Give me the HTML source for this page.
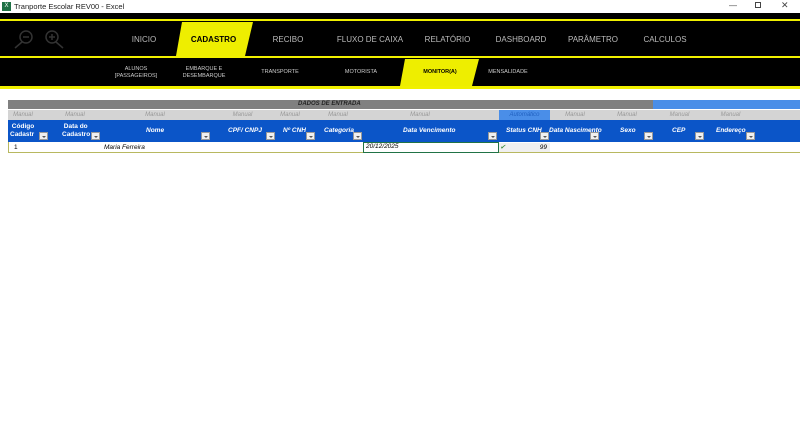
<!DOCTYPE html>
<html><head><meta charset="utf-8"><style>
*{margin:0;padding:0;box-sizing:border-box}
body{width:800px;height:421px;background:#fff;position:relative;overflow:hidden;font-family:"Liberation Sans",sans-serif}
.a{position:absolute}
.nav{color:#bbb;font-size:8px;text-align:center}
.sub{color:#ccc;font-size:5.5px;text-align:center;line-height:7px}
.m{position:absolute;top:110px;height:10px;font-size:6px;font-style:italic;color:#999;text-align:center;line-height:10px}
.h{position:absolute;top:120px;height:22px;color:#fff;font-size:6.5px;font-weight:bold;font-style:italic;line-height:8px}
.dd{position:absolute;width:9px;height:8px;background:#f0f0f0;border:1px solid #999;top:132px}
.dd:after{content:"";position:absolute;left:2px;top:2.5px;border-left:2px solid transparent;border-right:2px solid transparent;border-top:2.5px solid #555}
</style></head><body>
<div class="a" style="left:2px;top:2px;width:9px;height:9px;background:#1e7145;color:#fff;font-size:6px;text-align:center;line-height:9px">X</div>
<div class="a" style="left:14px;top:2px;font-size:7.5px;color:#222">Tranporte Escolar REV00 - Excel</div>
<div class="a" style="left:729px;top:1px;font-size:8px;color:#444">—</div>
<div class="a" style="left:755px;top:2px;width:6px;height:6px;border:1px solid #444"></div>
<div class="a" style="left:781px;top:0px;font-size:9px;color:#444">✕</div>
<div class="a" style="left:0;top:13px;width:800px;height:76px;background:#000"></div>
<div class="a" style="left:0;top:19px;width:800px;height:2px;background:#f0f000"></div>
<div class="a" style="left:0;top:56px;width:800px;height:2px;background:#f0f000"></div>
<div class="a" style="left:0;top:86px;width:800px;height:3px;background:#f0f000"></div>
<svg class="a" style="left:0;top:0" width="800" height="90">
<polygon points="182,22 253,22 245,56 176,56" fill="#eeee00"/>
<polygon points="405,59 479,59 472,86 400,86" fill="#eeee00"/>
<g stroke="#333" stroke-width="1.5" fill="none"><circle cx="26" cy="37" r="6"/><line x1="22" y1="42" x2="15" y2="48"/><line x1="23" y1="37" x2="29" y2="37"/>
<circle cx="52" cy="37" r="6"/><line x1="56" y1="42" x2="63" y2="48"/><line x1="49" y1="37" x2="55" y2="37"/><line x1="52" y1="34" x2="52" y2="40"/></g>
</svg>
<div class="a nav" style="left:124px;top:35px;width:40px">INICIO</div>
<div class="a nav" style="left:176px;top:35px;width:75px;color:#000;font-weight:bold">CADASTRO</div>
<div class="a nav" style="left:268px;top:35px;width:40px">RECIBO</div>
<div class="a nav" style="left:335px;top:35px;width:70px">FLUXO DE CAIXA</div>
<div class="a nav" style="left:420px;top:35px;width:55px">RELATÓRIO</div>
<div class="a nav" style="left:490px;top:35px;width:62px">DASHBOARD</div>
<div class="a nav" style="left:563px;top:35px;width:60px">PARÂMETRO</div>
<div class="a nav" style="left:640px;top:35px;width:50px">CALCULOS</div>
<div class="a sub" style="left:108px;top:66px;width:56px">ALUNOS<br>[PASSAGEIROS]</div>
<div class="a sub" style="left:176px;top:66px;width:56px">EMBARQUE E<br>DESEMBARQUE</div>
<div class="a sub" style="left:252px;top:69px;width:56px">TRANSPORTE</div>
<div class="a sub" style="left:333px;top:69px;width:56px">MOTORISTA</div>
<div class="a sub" style="left:412px;top:69px;width:56px;color:#000;font-weight:bold">MONITOR(A)</div>
<div class="a sub" style="left:480px;top:69px;width:56px">MENSALIDADE</div>
<div class="a" style="left:8px;top:100px;width:645px;height:9px;background:#808080;font-size:6px;font-weight:bold;font-style:italic;color:#222;line-height:9px;padding-left:290px">DADOS DE ENTRADA</div>
<div class="a" style="left:653px;top:100px;width:147px;height:9px;background:#4a8ee8"></div>
<div class="a" style="left:8px;top:110px;width:792px;height:10px;background:#d4d4d4"></div>
<div class="a" style="left:499px;top:110px;width:51px;height:10px;background:#4a8ee8"></div>
<div class="m" style="left:8px;width:30px">Manual</div>
<div class="m" style="left:60px;width:30px">Manual</div>
<div class="m" style="left:130px;width:50px">Manual</div>
<div class="m" style="left:220px;width:45px">Manual</div>
<div class="m" style="left:270px;width:40px">Manual</div>
<div class="m" style="left:318px;width:40px">Manual</div>
<div class="m" style="left:390px;width:60px">Manual</div>
<div class="m" style="left:499px;width:51px;color:#2060c0">Automático</div>
<div class="m" style="left:550px;width:50px">Manual</div>
<div class="m" style="left:600px;width:54px">Manual</div>
<div class="m" style="left:654px;width:51px">Manual</div>
<div class="m" style="left:705px;width:51px">Manual</div>
<div class="a" style="left:8px;top:120px;width:792px;height:22px;background:#0b55c8"></div>
<div class="h" style="left:10px;top:123px;font-style:normal">&nbsp;Código<br>Cadastr</div>
<div class="h" style="left:62px;top:123px;font-style:normal">&nbsp;Data do<br>Cadastro</div>
<div class="h" style="left:146px;top:127px">Nome</div>
<div class="h" style="left:228px;top:127px">CPF/ CNPJ</div>
<div class="h" style="left:283px;top:127px">Nº CNH</div>
<div class="h" style="left:324px;top:127px">Categoria</div>
<div class="h" style="left:403px;top:127px">Data Vencimento</div>
<div class="h" style="left:506px;top:127px">Status CNH</div>
<div class="h" style="left:549px;top:127px">Data Nascimento</div>
<div class="h" style="left:620px;top:127px">Sexo</div>
<div class="h" style="left:672px;top:127px">CEP</div>
<div class="h" style="left:716px;top:127px">Endereço</div>
<div class="dd" style="left:39px"></div><div class="dd" style="left:91px"></div><div class="dd" style="left:201px"></div>
<div class="dd" style="left:266px"></div><div class="dd" style="left:306px"></div><div class="dd" style="left:353px"></div>
<div class="dd" style="left:488px"></div><div class="dd" style="left:540px"></div><div class="dd" style="left:590px"></div>
<div class="dd" style="left:644px"></div><div class="dd" style="left:695px"></div><div class="dd" style="left:746px"></div>
<div class="a" style="left:8px;top:142px;width:792px;height:11px;border-left:1px solid #b8b860;border-bottom:1px solid #b8b860"></div>
<div class="a" style="left:14px;top:144px;font-size:6.5px">1</div>
<div class="a" style="left:104px;top:144px;font-size:6.5px;font-style:italic">Maria Ferreira</div>
<div class="a" style="left:363px;top:142px;width:136px;height:11px;border:1.5px solid #217346;font-size:6.5px;font-style:italic;padding-left:2px;line-height:8px">20/12/2025</div>
<div class="a" style="left:499px;top:143px;width:51px;height:9px;background:#f0f0f0;font-size:6.5px;font-style:italic;text-align:right;padding-right:3px;line-height:9px"><span style="float:left;color:#3a8a3a;padding-left:1px">✔</span>99</div>
</body></html>
